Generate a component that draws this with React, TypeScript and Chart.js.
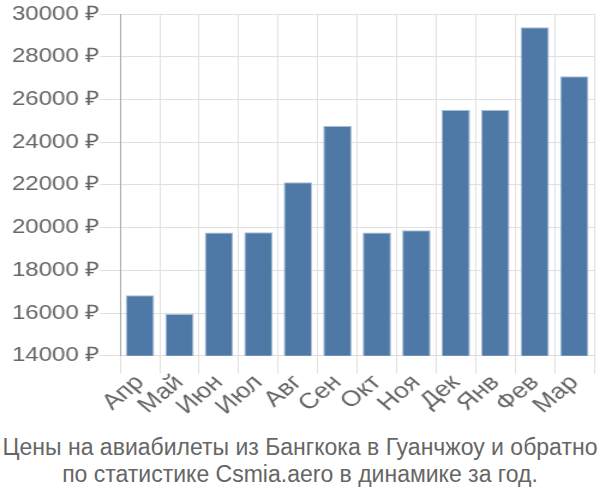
import React, { useEffect, useRef } from "react";
import { Chart, registerables } from "chart.js";

Chart.register(...registerables);

const months = ["Апр", "Май", "Июн", "Июл", "Авг", "Сен", "Окт", "Ноя", "Дек", "Янв", "Фев", "Мар"];
const prices = [16830, 15960, 19770, 19780, 22120, 24760, 19770, 19870, 25500, 25500, 29380, 27080];
const captionLines = [
  "Цены на авиабилеты из Бангкока в Гуанчжоу и обратно",
  "по статистике Csmia.aero в динамике за год.",
];
const yMin = 14000;
const yMax = 30000;
const yStep = 2000;

export default function App() {
  const ref = useRef<HTMLCanvasElement | null>(null);
  useEffect(() => {
    document.body.style.margin = "0";
    const ctx = ref.current!;
    const font = "'Liberation Sans', Arial, sans-serif";
    const chart = new Chart(ctx, {
      type: "bar",
      data: {
        labels: months,
        datasets: [
          {
            data: prices,
            backgroundColor: "#4e79a7",
            borderColor: "#a9bdd4",
            borderWidth: 1,
          },
        ],
      },
      options: {
        animation: false,
        responsive: false,
        devicePixelRatio: 1,
        layout: { padding: { left: 10, right: 5, top: 14, bottom: 12 } },
        plugins: {
          legend: { display: false },
          tooltip: { enabled: false },
        },
        scales: {
          x: {
            grid: { color: "#e0e0e0", lineWidth: 1, tickLength: 18, offset: true },
            border: { color: "#dcdcdc" },
            ticks: {
              color: "#666",
              font: { family: font, size: 22 },
              minRotation: 45,
              maxRotation: 45,
              autoSkip: false,
              padding: -4,
            },
          },
          y: {
            min: yMin,
            max: yMax,
            grid: { color: "#e0e0e0", lineWidth: 1, tickLength: 17 },
            border: { color: "#aaa", width: 1 },
            ticks: {
              stepSize: yStep,
              color: "#666",
              font: { family: font, size: 20 },
              padding: 0,
              callback: (v: any) => `${v} ₽`,
            },
          },
        },
      },
    });
    return () => chart.destroy();
  }, []);
  return (
    <div style={{ width: 600, height: 500 }}>
      <canvas
        ref={ref}
        width={500}
        height={428}
        style={{ width: "600px", height: "428px", display: "block" }}
      />
      <div
        style={{
          fontFamily: "'Liberation Sans', Arial, sans-serif",
          fontSize: 23,
          lineHeight: "27px",
          marginTop: 6,
          color: "#666",
          textAlign: "center",
          whiteSpace: "nowrap",
        }}
      >
        {captionLines.map((l) => (
          <div key={l}>{l}</div>
        ))}
      </div>
    </div>
  );
}
